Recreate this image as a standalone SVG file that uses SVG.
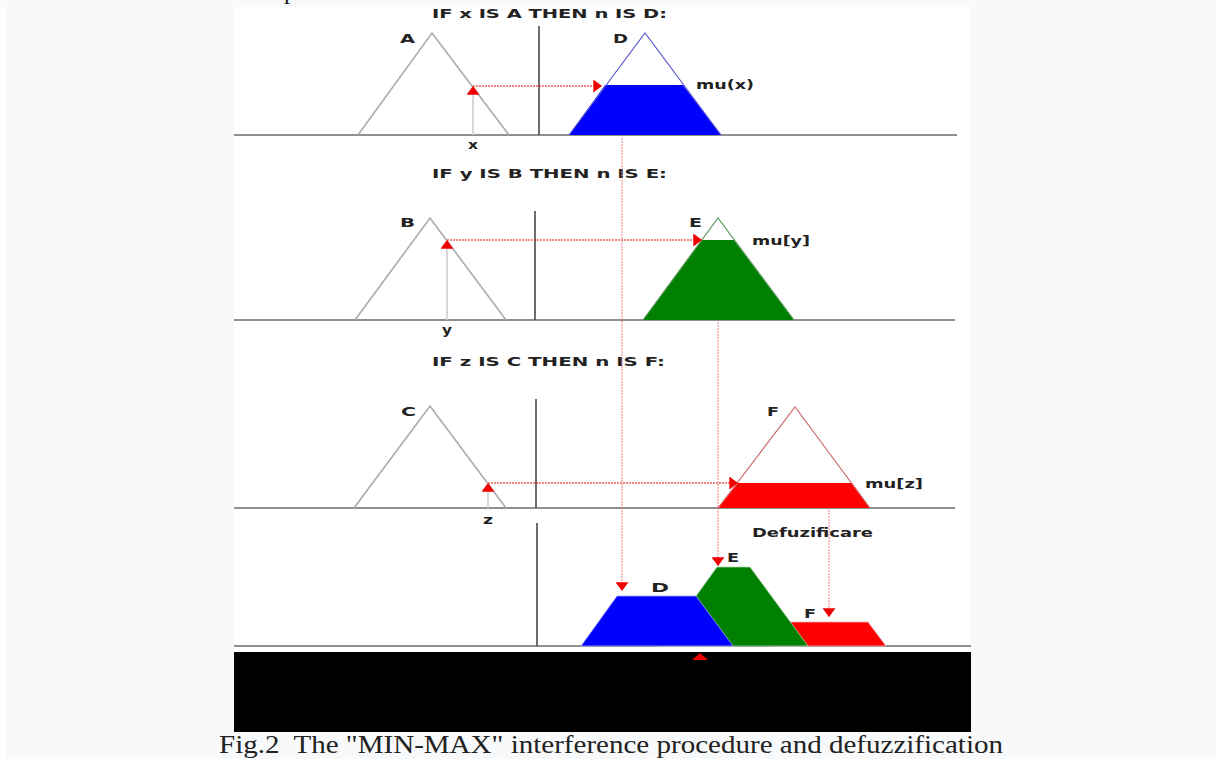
<svg xmlns="http://www.w3.org/2000/svg" width="1216" height="759" viewBox="0 0 1216 759">
<defs>
<style>
.bg{fill:#f8f9fa}
.lab{font-family:"DejaVu Sans","Liberation Sans",sans-serif;font-weight:bold;font-size:12px;fill:#222}
.title{font-family:"DejaVu Sans","Liberation Sans",sans-serif;font-weight:bold;font-size:12.5px;fill:#222}
.cap{font-family:"Liberation Serif","Times New Roman",serif;font-size:25px;fill:#222}
.base{stroke:#6a6a6a;stroke-width:1.6;fill:none}
.axis{stroke:#4a4a4a;stroke-width:1.6;fill:none}
.tri{stroke:#ababab;stroke-width:1.6;fill:none}
.inp{stroke:#cfcfcf;stroke-width:1.6;fill:none}
.hdot{stroke:#ee1111;stroke-width:1.2;stroke-dasharray:2 1;fill:none}
.vdot{stroke:#f07a7a;stroke-width:1;stroke-dasharray:2 1;fill:none}
.arr{fill:#ee0000}
</style>
<marker id="ah" viewBox="0 0 8 12" refX="8" refY="6" markerWidth="9" markerHeight="13" markerUnits="userSpaceOnUse" orient="auto">
<path d="M0,0 L8,6 L0,12 z" class="arr"/>
</marker>
</defs>
<rect class="bg" x="0" y="0" width="1216" height="759"/>
<rect x="0" y="7" width="6" height="752" fill="#ffffff"/>
<text class="cap" x="284" y="-1">p</text>
<rect x="234" y="7" width="737" height="645" fill="#ffffff"/>
<rect x="234" y="652" width="737" height="80" fill="#000000"/>

<g id="panel1">
<text class="title" x="432" y="17.5" textLength="235" lengthAdjust="spacingAndGlyphs">IF x IS A THEN n IS D:</text>
<line class="base" x1="234" y1="135" x2="957" y2="135"/>
<line class="axis" x1="539" y1="26" x2="539" y2="135"/>
<g id="setA"><polyline class="tri" points="358,135 432,33 509,135"/><text class="lab" x="400" y="43" textLength="15" lengthAdjust="spacingAndGlyphs">A</text></g>
<g id="setD">
<polygon points="569,135 605,85 683,85 721,135" fill="#0000ff"/>
<polyline points="569,135 645,33 721,135" fill="none" stroke="#5a5ad0" stroke-width="1.2"/>
<text class="lab" x="613" y="43" textLength="15" lengthAdjust="spacingAndGlyphs">D</text>
<text class="lab" x="696" y="89" textLength="58" lengthAdjust="spacingAndGlyphs">mu(x)</text>
</g>
<text class="lab" x="468" y="149" textLength="10" lengthAdjust="spacingAndGlyphs">x</text>
</g>

<g id="panel2">
<text class="title" x="432" y="178" textLength="235" lengthAdjust="spacingAndGlyphs">IF y IS B THEN n IS E:</text>
<line class="base" x1="234" y1="320" x2="955" y2="320"/>
<line class="axis" x1="535" y1="211" x2="535" y2="320"/>
<g id="setB"><polyline class="tri" points="355,320 430,218 506,320"/><text class="lab" x="400" y="227" textLength="15" lengthAdjust="spacingAndGlyphs">B</text></g>
<g id="setE">
<polygon points="643,320 702,240 734,240 794,320" fill="#008000"/>
<polyline points="643,320 718,218 794,320" fill="none" stroke="#5f9a5f" stroke-width="1.2"/>
<text class="lab" x="689" y="227" textLength="13" lengthAdjust="spacingAndGlyphs">E</text>
<text class="lab" x="752" y="245" textLength="58" lengthAdjust="spacingAndGlyphs">mu[y]</text>
</g>
<text class="lab" x="442" y="334" textLength="10" lengthAdjust="spacingAndGlyphs">y</text>
</g>

<g id="panel3">
<text class="title" x="432" y="366" textLength="233" lengthAdjust="spacingAndGlyphs">IF z IS C THEN n IS F:</text>
<line class="base" x1="234" y1="508" x2="955" y2="508"/>
<line class="axis" x1="536" y1="399" x2="536" y2="508"/>
<g id="setC"><polyline class="tri" points="354,508 430,406 506,508"/><text class="lab" x="401" y="416" textLength="15" lengthAdjust="spacingAndGlyphs">C</text></g>
<g id="setF">
<polygon points="718,508 738,483 852,483 870,508" fill="#ff0000"/>
<polyline points="718,508 795,407 870,508" fill="none" stroke="#cc6a6a" stroke-width="1.2"/>
<text class="lab" x="767" y="416" textLength="12" lengthAdjust="spacingAndGlyphs">F</text>
<text class="lab" x="865" y="488" textLength="58" lengthAdjust="spacingAndGlyphs">mu[z]</text>
</g>
<text class="lab" x="483" y="524" textLength="10" lengthAdjust="spacingAndGlyphs">z</text>
</g>

<g id="panel4">
<line class="base" x1="234" y1="646" x2="971" y2="646"/>
<line class="axis" x1="537" y1="523" x2="537" y2="646" stroke-width="1.2"/>
<text class="lab" x="752" y="537" textLength="121" lengthAdjust="spacingAndGlyphs">Defuzificare</text>
<g id="outF"><polygon points="770,646 788,622 868,622 886,646" fill="#ff0000" stroke="#f4b0b0" stroke-width="0.8"/><text class="lab" x="804" y="618" textLength="12" lengthAdjust="spacingAndGlyphs">F</text></g>
<g id="outE"><polygon points="660,646 717,567 750,567 808,646" fill="#008000" stroke="#a8d0a8" stroke-width="0.8"/><text class="lab" x="727" y="562" textLength="12" lengthAdjust="spacingAndGlyphs">E</text></g>
<g id="outD"><polygon points="581,646 617,596 696,596 733,646" fill="#0000ff" stroke="#a8a8f0" stroke-width="0.8"/><text class="lab" x="651" y="592" textLength="18" lengthAdjust="spacingAndGlyphs">D</text></g>
<polygon id="centroid" class="arr" points="700,653 692,660 708,660"/>
</g>

<g id="connectors">
<line class="inp" x1="473" y1="135" x2="473" y2="86" marker-end="url(#ah)"/>
<line class="hdot" x1="473" y1="86" x2="602" y2="86" marker-end="url(#ah)"/>
<line class="inp" x1="447" y1="320" x2="447" y2="240" marker-end="url(#ah)"/>
<line class="hdot" x1="447" y1="240" x2="702" y2="240" marker-end="url(#ah)"/>
<line class="inp" x1="488" y1="508" x2="488" y2="483" marker-end="url(#ah)"/>
<line class="hdot" x1="488" y1="483" x2="738" y2="483" marker-end="url(#ah)"/>
<line class="vdot" x1="622" y1="138" x2="622" y2="591" marker-end="url(#ah)"/>
<line class="vdot" x1="718" y1="322" x2="718" y2="566" marker-end="url(#ah)"/>
<line class="vdot" x1="829" y1="510" x2="829" y2="617" marker-end="url(#ah)"/>
</g>

<text class="cap" x="219" y="753" textLength="784" lengthAdjust="spacingAndGlyphs">Fig.2&#160; The "MIN-MAX" interference procedure and defuzzification</text>
</svg>
